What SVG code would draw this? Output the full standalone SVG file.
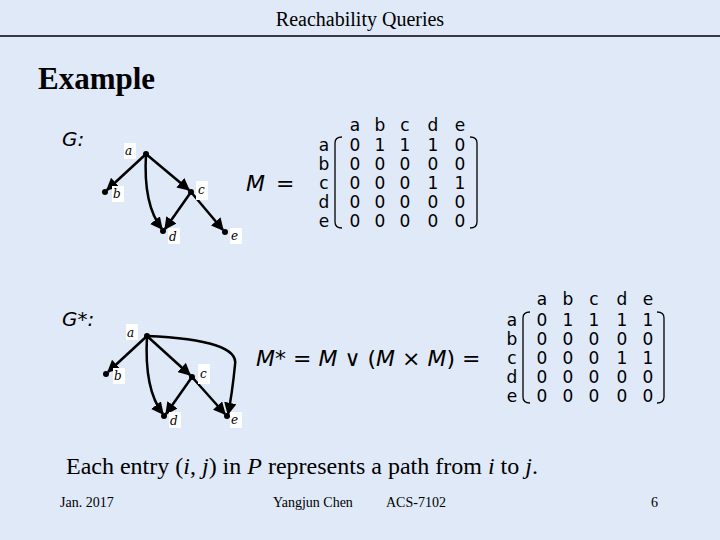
<svg xmlns="http://www.w3.org/2000/svg" width="720" height="540" viewBox="0 0 720 540">
<defs>
<marker id="ah" viewBox="0 0 10 10" refX="9" refY="5" markerWidth="5" markerHeight="5" orient="auto"><path d="M0,0L10,5L0,10z" fill="#000"/></marker>
</defs>
<style>
.t{font-family:"Liberation Serif",serif;fill:#000}
.m{font-family:"DejaVu Sans",sans-serif;font-size:17px;fill:#000}
.mi{font-family:"DejaVu Sans",sans-serif;font-size:17px;font-style:italic;fill:#000}
.e{stroke:#000;stroke-width:2.5;fill:none;marker-end:url(#ah)}
.lb{fill:#fff}
.nl{font-family:"DejaVu Serif",serif;font-style:italic;font-size:12px}
.br{stroke:#000;stroke-width:1.3;fill:none}
</style>
<rect width="720" height="540" fill="#dfe9f7"/>
<line x1="0" y1="36" x2="720" y2="36" stroke="#000" stroke-width="1.5"/>
<text class="t" x="360" y="26" font-size="20" text-anchor="middle">Reachability Queries</text>
<text class="t" x="38" y="89" font-size="31" font-weight="bold">Example</text>
<text class="mi" x="62" y="146" style="font-size:20px">G:</text>
<text class="mi" x="62" y="326" style="font-size:20px">G*:</text>

<g id="connectors">
<line class="e" x1="146" y1="154" x2="107" y2="190"/>
<line class="e" x1="146" y1="154" x2="189" y2="190"/>
<path class="e" d="M146,154 Q143,205 162,229"/>
<line class="e" x1="191" y1="192" x2="165" y2="229"/>
<line class="e" x1="191" y1="192" x2="223" y2="230"/>
<line class="e" x1="147" y1="336" x2="108" y2="372"/>
<line class="e" x1="147" y1="336" x2="190" y2="375"/>
<path class="e" d="M147,336 Q144,390 163,414"/>
<line class="e" x1="192" y1="377" x2="166" y2="414"/>
<line class="e" x1="192" y1="377" x2="225" y2="414"/>
<path class="e" d="M147,336 Q240,340 235,365 Q232,395 228,414"/>
</g>

<g id="g-a"><rect class="lb" x="124" y="143" width="12" height="16"/><text class="nl" x="125" y="155">a</text><circle cx="146" cy="154" r="3"/></g>
<g id="g-b"><rect class="lb" x="112" y="186" width="12" height="16"/><text class="nl" x="113" y="198">b</text><circle cx="105" cy="192" r="3"/></g>
<g id="g-c"><rect class="lb" x="196" y="181" width="12" height="19"/><text class="nl" x="198" y="194">c</text><circle cx="191" cy="192" r="3"/></g>
<g id="g-d"><rect class="lb" x="168" y="228" width="12" height="16"/><text class="nl" x="169" y="241">d</text><circle cx="163" cy="231" r="3"/></g>
<g id="g-e"><rect class="lb" x="230" y="228" width="12" height="16"/><text class="nl" x="231" y="240">e</text><circle cx="225" cy="232" r="3"/></g>

<g id="gs-a"><rect class="lb" x="126" y="324" width="12" height="16"/><text class="nl" x="127" y="337">a</text><circle cx="147" cy="336" r="3"/></g>
<g id="gs-b"><rect class="lb" x="113" y="368" width="12" height="16"/><text class="nl" x="114" y="380">b</text><circle cx="106" cy="374" r="3"/></g>
<g id="gs-c"><rect class="lb" x="198" y="364" width="12" height="20"/><text class="nl" x="200" y="378">c</text><circle cx="192" cy="377" r="3"/></g>
<g id="gs-d"><rect class="lb" x="169" y="412" width="12" height="16"/><text class="nl" x="170" y="425">d</text><circle cx="164" cy="416" r="3"/></g>
<g id="gs-e"><rect class="lb" x="230" y="412" width="12" height="16"/><text class="nl" x="231" y="424">e</text><circle cx="227" cy="416" r="3"/></g>

<g id="M">
<text class="mi" x="246" y="191" style="font-size:22px">M</text><text class="m" x="276" y="191" style="font-size:22px">=</text>
<g class="m" text-anchor="middle">
<text x="355" y="131">a</text><text x="380" y="131">b</text><text x="405" y="131">c</text><text x="433" y="131">d</text><text x="460" y="131">e</text>
<text x="324" y="151">a</text><text x="324" y="170">b</text><text x="324" y="189">c</text><text x="324" y="208">d</text><text x="324" y="227">e</text>
<text x="355" y="151">0</text><text x="380" y="151">1</text><text x="405" y="151">1</text><text x="433" y="151">1</text><text x="460" y="151">0</text>
<text x="355" y="170">0</text><text x="380" y="170">0</text><text x="405" y="170">0</text><text x="433" y="170">0</text><text x="460" y="170">0</text>
<text x="355" y="189">0</text><text x="380" y="189">0</text><text x="405" y="189">0</text><text x="433" y="189">1</text><text x="460" y="189">1</text>
<text x="355" y="208">0</text><text x="380" y="208">0</text><text x="405" y="208">0</text><text x="433" y="208">0</text><text x="460" y="208">0</text>
<text x="355" y="227">0</text><text x="380" y="227">0</text><text x="405" y="227">0</text><text x="433" y="227">0</text><text x="460" y="227">0</text>
</g>
<path class="br" d="M342,137 Q335,137 335,143 L335,222 Q335,228 342,228"/>
<path class="br" d="M470,137 Q477,137 477,143 L477,222 Q477,228 470,228"/>
</g>

<g id="Mstar">
<text class="m" x="256" y="366" style="font-size:22px"><tspan font-style="italic">M</tspan>* = <tspan font-style="italic">M</tspan> ∨ (<tspan font-style="italic">M</tspan> × <tspan font-style="italic">M</tspan>) =</text>
<g class="m" text-anchor="middle">
<text x="542" y="305">a</text><text x="568" y="305">b</text><text x="594" y="305">c</text><text x="622" y="305">d</text><text x="648" y="305">e</text>
<text x="512" y="326">a</text><text x="512" y="345">b</text><text x="512" y="364">c</text><text x="512" y="383">d</text><text x="512" y="402">e</text>
<text x="542" y="326">0</text><text x="568" y="326">1</text><text x="594" y="326">1</text><text x="622" y="326">1</text><text x="648" y="326">1</text>
<text x="542" y="345">0</text><text x="568" y="345">0</text><text x="594" y="345">0</text><text x="622" y="345">0</text><text x="648" y="345">0</text>
<text x="542" y="364">0</text><text x="568" y="364">0</text><text x="594" y="364">0</text><text x="622" y="364">1</text><text x="648" y="364">1</text>
<text x="542" y="383">0</text><text x="568" y="383">0</text><text x="594" y="383">0</text><text x="622" y="383">0</text><text x="648" y="383">0</text>
<text x="542" y="402">0</text><text x="568" y="402">0</text><text x="594" y="402">0</text><text x="622" y="402">0</text><text x="648" y="402">0</text>
</g>
<path class="br" d="M530,312 Q523,312 523,318 L523,397 Q523,403 530,403"/>
<path class="br" d="M657,312 Q664,312 664,318 L664,397 Q664,403 657,403"/>
</g>

<text class="t" x="66" y="474" font-size="24">Each entry (<tspan font-style="italic">i</tspan>, <tspan font-style="italic">j</tspan>) in <tspan font-style="italic">P</tspan> represents a path from <tspan font-style="italic">i</tspan> to <tspan font-style="italic">j</tspan>.</text>
<text class="t" x="60" y="507" font-size="14">Jan. 2017</text>
<text class="t" x="273" y="507" font-size="14">Yangjun Chen</text>
<text class="t" x="386" y="507" font-size="14">ACS-7102</text>
<text class="t" x="651" y="507" font-size="14">6</text>
</svg>
